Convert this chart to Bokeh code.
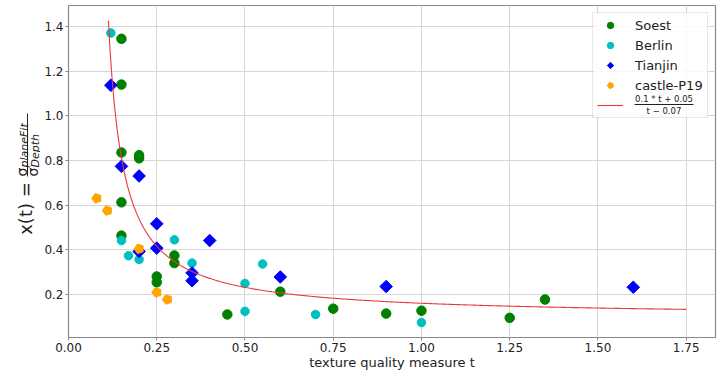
import numpy as np
from bokeh.plotting import figure
from bokeh.layouts import row
from bokeh.models import (Range1d, FixedTicker, NumeralTickFormatter, Legend,
                          LegendItem, Label, BoxAnnotation)
from bokeh.core.properties import value
from bokeh.embed import file_html
from bokeh.resources import INLINE

# ---------------- data ----------------
soest_t = [0.15, 0.15, 0.15, 0.20, 0.20, 0.15, 0.15, 0.25, 0.25, 0.30, 0.30,
           0.45, 0.60, 0.75, 0.90, 1.00, 1.25, 1.35]
soest_x = [1.345, 1.14, 0.836, 0.824, 0.81, 0.613, 0.464, 0.281, 0.255, 0.375,
           0.341, 0.111, 0.213, 0.137, 0.115, 0.128, 0.096, 0.178]
berlin_t = [0.12, 0.15, 0.17, 0.20, 0.30, 0.35, 0.50, 0.50, 0.55, 0.70, 1.00]
berlin_x = [1.371, 0.442, 0.374, 0.357, 0.445, 0.341, 0.25, 0.125, 0.337, 0.111, 0.075]
tianjin_t = [0.12, 0.15, 0.20, 0.20, 0.25, 0.25, 0.35, 0.35, 0.40, 0.60, 0.90, 1.60]
tianjin_x = [1.137, 0.774, 0.731, 0.393, 0.517, 0.408, 0.297, 0.262, 0.442, 0.279,
             0.236, 0.233]
castle_t = [0.08, 0.11, 0.20, 0.25, 0.28]
castle_x = [0.631, 0.576, 0.405, 0.21, 0.178]

# fitted model x(t) = (0.1*t + 0.05) / (t - 0.07), shown from t=0.113 to 1.75
fit_a, fit_b, fit_c = 0.1, 0.05, 0.07
fit_t = np.linspace(0.113, 1.75, 400)
fit_x = (fit_a * fit_t + fit_b) / (fit_t - fit_c)

x_ticks = [0.0, 0.25, 0.5, 0.75, 1.0, 1.25, 1.5, 1.75]
y_ticks = [0.2, 0.4, 0.6, 0.8, 1.0, 1.2, 1.4]

X_MIN, X_MAX = 0.0, 1.833
Y_MIN, Y_MAX = 0.008, 1.494

FONT = "DejaVu Sans"
TXT = "#222222"
GRAY = "#888888"

W_LEFT, W_MAIN, H = 40, 680, 372
B_TOP, B_BOTTOM = 5, 35

# ---------------- main plot ----------------
p = figure(width=W_MAIN, height=H, output_backend="svg", toolbar_location=None,
           x_range=Range1d(X_MIN, X_MAX), y_range=Range1d(Y_MIN, Y_MAX),
           min_border_left=28, min_border_right=5, min_border_top=B_TOP,
           min_border_bottom=B_BOTTOM)

p.background_fill_color = "white"
p.border_fill_color = "white"
p.outline_line_color = GRAY
p.outline_line_width = 1.2

for ax in (p.xaxis[0], p.yaxis[0]):
    ax.axis_line_color = None
    ax.major_tick_line_color = GRAY
    ax.major_tick_out = 3
    ax.major_tick_in = 0
    ax.minor_tick_line_color = None
    ax.major_label_text_font = FONT
    ax.major_label_text_font_size = "12px"
    ax.major_label_text_color = TXT
    ax.major_label_standoff = 2

p.xaxis.ticker = FixedTicker(ticks=x_ticks)
p.yaxis.ticker = FixedTicker(ticks=y_ticks)
p.xaxis.formatter = NumeralTickFormatter(format="0.00")
p.yaxis.formatter = NumeralTickFormatter(format="0.0")
p.xaxis.axis_label = "texture quality measure t"
p.xaxis.axis_label_text_font = FONT
p.xaxis.axis_label_text_font_size = "13px"
p.xaxis.axis_label_text_font_style = "normal"
p.xaxis.axis_label_text_color = TXT
p.xaxis.axis_label_standoff = 0

p.xgrid.grid_line_color = "#d6d6d6"
p.ygrid.grid_line_color = "#d6d6d6"

# ---------- page pixel -> main data coordinates (layout helper) ----------
FL, FR, FT, FB = 68.0, 715.0, float(B_TOP), float(H - B_BOTTOM)


def dx(px):
    return X_MIN + (px - FL) / (FR - FL) * (X_MAX - X_MIN)


def dy(py):
    return Y_MAX - (py - FT) / (FB - FT) * (Y_MAX - Y_MIN)


# semi-opaque white panel behind the legend (covers the grid only)
p.add_layout(BoxAnnotation(left=dx(593.5), right=dx(707.5), top=dy(12.5), bottom=dy(116.5),
                           fill_color="white", fill_alpha=0.85, line_color=None,
                           level="underlay"))

r_soest = p.scatter(soest_t, soest_x, marker="circle", size=9.5,
                    fill_color="green", line_color="green")
r_berlin = p.scatter(berlin_t, berlin_x, marker="circle", size=8.5,
                     fill_color="#00BFBF", line_color="#00BFBF")
r_tianjin = p.ngon(tianjin_t, tianjin_x, radius=6.3, radius_units="screen", n=4,
                   angle=0.0, fill_color="blue", line_color="blue")
r_castle = p.ngon(castle_t, castle_x, radius=5, radius_units="screen", n=5,
                  angle=np.pi / 2, fill_color="orange", line_color="orange")
r_fit = p.line(fit_t, fit_x, line_color="#e8393b", line_width=1.1)

legend = Legend(items=[
    LegendItem(label="Soest", renderers=[r_soest]),
    LegendItem(label="Berlin", renderers=[r_berlin]),
    LegendItem(label="Tianjin", renderers=[r_tianjin]),
    LegendItem(label="castle-P19", renderers=[r_castle]),
    LegendItem(label=" ", renderers=[r_fit]),
], location="top_right")
legend.label_text_font = FONT
legend.label_text_font_size = "13px"
legend.label_text_color = TXT
legend.padding = 4
legend.spacing = 4
legend.margin = 7
legend.glyph_height = 16
legend.glyph_width = 26
legend.label_standoff = 12
legend.label_width = 68
legend.border_line_color = "#d0d0d0"
legend.border_line_width = 1
legend.background_fill_alpha = 0.0
p.add_layout(legend)

# legend text for the fitted curve, drawn as a small fraction
for txt, py in (("0.1 * t + 0.05", 98), ("t − 0.07", 110.5)):
    p.add_layout(Label(x=dx(663.5), y=dy(py), text=txt, text_align="center",
                       text_baseline="middle", text_font=FONT,
                       text_font_size="8.5px", text_color=TXT))
p.add_layout(BoxAnnotation(left=dx(634), right=dx(693), top=dy(103.6), bottom=dy(104.4),
                           fill_color=TXT, fill_alpha=1, line_color=None))

# ---------------- left strip with the y-axis label ----------------
lf = figure(width=W_LEFT, height=H, output_backend="svg", toolbar_location=None,
            x_range=Range1d(0, W_LEFT), y_range=Range1d(-FB, -FT),
            min_border=0, min_border_left=0, min_border_right=0,
            min_border_top=B_TOP, min_border_bottom=B_BOTTOM)
lf.axis.visible = False
lf.grid.visible = False
lf.outline_line_color = None
lf.background_fill_color = "white"
lf.border_fill_color = "white"

rot = np.pi / 2
lf.text(x=[25], y=[-208], text=["x(t) ="], angle=rot,
        text_align="center", text_baseline="middle", text_font=value(FONT),
        text_font_size=value("18px"), text_color=TXT)
lf.text(x=[21, 32], y=[-176, -176], text=["σ", "σ"], angle=rot,
        text_align="left", text_baseline="middle", text_font=value(FONT),
        text_font_size=value("14px"), text_color=TXT)
lf.text(x=[23.5, 34.5], y=[-167, -167], text=["planeFit", "Depth"],
        angle=rot, text_align="left", text_baseline="middle", text_font=value(FONT),
        text_font_size=value("11px"), text_font_style="italic", text_color=TXT)
lf.segment(x0=[27], y0=[-113], x1=[27], y1=[-176], line_color=TXT, line_width=1)

layout = row(lf, p, spacing=0)
open("out.html", "w").write(file_html(layout, INLINE))
